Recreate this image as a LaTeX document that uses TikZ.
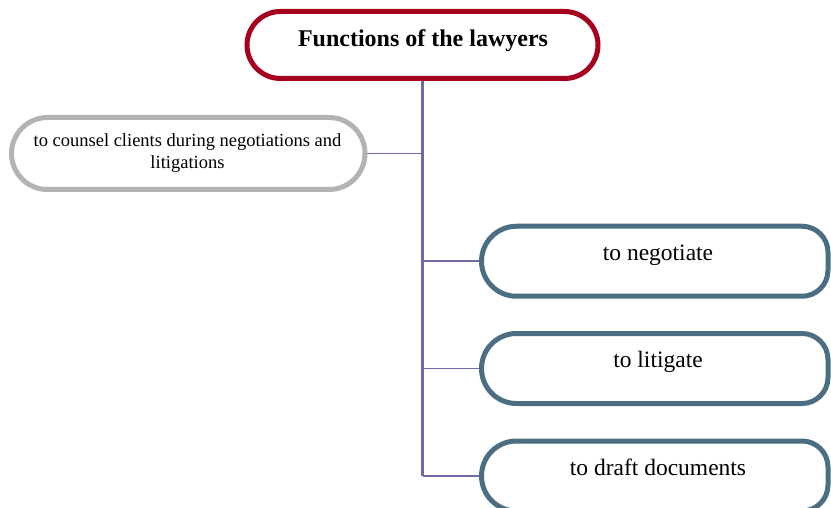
\documentclass[tikz,border=0pt]{standalone}
\usepackage{fontspec}
\setmainfont{Liberation Serif}
\definecolor{topred}{HTML}{A6001F}
\definecolor{sideblue}{HTML}{4B6E82}
\definecolor{sidegray}{HTML}{B3B3B3}
\definecolor{linkpurple}{HTML}{6E6AA6}
\newcommand{\drawpill}[4]{% node, colour, left radius (= half height), right radius
  \draw[line width=5pt, draw=#2, fill=white]
    ([xshift=#3]#1.north west) arc[start angle=90, end angle=270, radius=#3]
    -- ([xshift=-#4]#1.south east) arc[start angle=270, end angle=360, radius=#4]
    -- ([yshift=-#4]#1.north east) arc[start angle=0, end angle=90, radius=#4]
    -- cycle;}
\begin{document}
\begin{tikzpicture}[x=1pt,y=1pt,
  box/.style={shape=rectangle, inner sep=0pt, outer sep=0pt},
  label/.style={anchor=base, inner sep=0pt, align=center},
  trunk/.style={draw=linkpurple, line width=2.5pt},
  branch/.style={draw=linkpurple, line width=1.6pt}]
\useasboundingbox (0,0) rectangle (831,507);
% shape frames
\node[box, minimum width=351pt, minimum height=67pt] (top) at (422.5,462) {};
\node[box, minimum width=353.5pt, minimum height=72pt] (left) at (188.25,353.5) {};
\node[box, minimum width=346.5pt, minimum height=70pt] (n1) at (654.75,245.75) {};
\node[box, minimum width=346.5pt, minimum height=70pt] (n2) at (654.75,138.5) {};
\node[box, minimum width=346.5pt, minimum height=70pt] (n3) at (654.75,31) {};
% connectors
\coordinate (j3) at (top.south |- n3.west);
\draw[trunk] (top.south) -- (j3);
\draw[branch] (left.east) -- (top.south |- left.east);
\draw[branch] (top.south |- n1.west) -- (n1.west);
\draw[branch] (top.south |- n2.west) -- (n2.west);
\draw[branch] (j3) -- (n3.west);
% outlines
\drawpill{top}{topred}{33.5pt}{33.5pt}
\drawpill{left}{sidegray}{36pt}{36pt}
\drawpill{n1}{sideblue}{35pt}{26pt}
\drawpill{n2}{sideblue}{35pt}{26pt}
\drawpill{n3}{sideblue}{35pt}{26pt}
% texts
\node[label, font=\fontsize{24}{28}\selectfont\bfseries] (toptext) at (423,460) {Functions of the lawyers};
\node[label, font=\fontsize{18.5}{22.3}\selectfont] (lefttext) at (187.5,338) {to counsel clients during negotiations and\\litigations};
\node[label, font=\fontsize{23.5}{28}\selectfont] (t1) at (658,246) {to negotiate};
\node[label, font=\fontsize{23.5}{28}\selectfont] (t2) at (658,140) {to litigate};
\node[label, font=\fontsize{23.5}{28}\selectfont] (t3) at (658,32) {to draft documents};
\end{tikzpicture}
\end{document}
